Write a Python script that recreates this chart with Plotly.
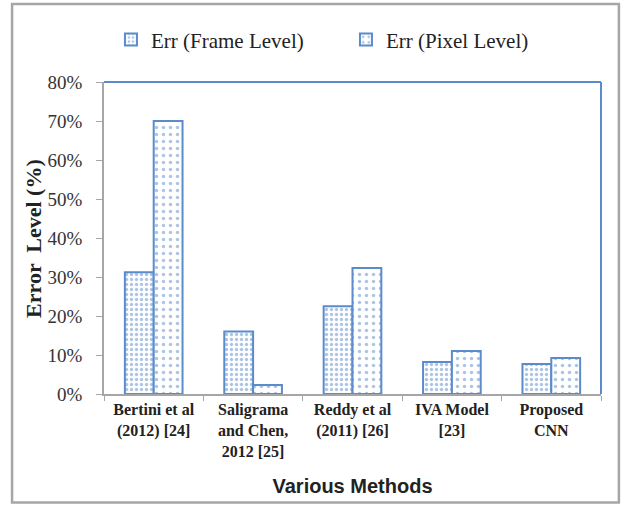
import plotly.graph_objects as go

# Error levels per method (%)
methods = [
    "Bertini et al<br>(2012) [24]",
    "Saligrama<br>and Chen,<br>2012 [25]",
    "Reddy et al<br>(2011) [26]",
    "IVA Model<br>[23]",
    "Proposed<br>CNN",
]
frame_err = [31.2, 16.0, 22.5, 8.2, 7.7]
pixel_err = [70.0, 2.3, 32.3, 11.0, 9.2]
y_ticks = [0, 10, 20, 30, 40, 50, 60, 70, 80]
y_tick_labels = [f"{v}%" for v in y_ticks]

BLUE = "#5B8BCB"
GRAY = "#A6A6A6"
SERIF = "Liberation Serif, Times New Roman, serif"

fig = go.Figure()
fig.add_trace(go.Bar(
    name="Err (Frame Level)", x=methods, y=frame_err,
    marker=dict(color="white", line=dict(color=BLUE, width=2),
                pattern=dict(shape=".", size=5, solidity=0.35,
                             fgcolor=BLUE, bgcolor="white")),
))
fig.add_trace(go.Bar(
    name="Err (Pixel Level)", x=methods, y=pixel_err,
    marker=dict(color="white", line=dict(color=BLUE, width=2),
                pattern=dict(shape=".", size=7, solidity=0.2,
                             fgcolor=BLUE, bgcolor="white")),
))

fig.update_layout(
    width=621, height=505,
    margin=dict(l=104, r=20, t=82, b=111, autoexpand=False),
    paper_bgcolor="white", plot_bgcolor="white",
    barmode="group", bargap=0.42, bargroupgap=0,
    showlegend=True,
    legend=dict(orientation="h", x=0.014, xanchor="left", y=1.135, yanchor="middle",
                bgcolor="rgba(0,0,0,0)",
                font=dict(family=SERIF, size=21, color="#222"),
                entrywidth=190, entrywidthmode="pixels", traceorder="normal"),
    font=dict(family=SERIF, color="#222"),
)
fig.update_xaxes(
    showline=True, linecolor=GRAY, linewidth=1.5,
    ticks="outside", tickson="boundaries", ticklen=5, tickcolor=GRAY,
    tickfont=dict(family=SERIF, size=16, color="#222", weight="bold"),
    title=dict(text="Various Methods", standoff=20,
               font=dict(family="Liberation Sans, Arial, sans-serif", size=20,
                         color="#222", weight="bold")),
)
fig.update_yaxes(
    range=[0, 80], tickvals=y_ticks, ticktext=y_tick_labels,
    showline=True, linecolor=GRAY, linewidth=1.5,
    ticks="outside", ticklen=6, tickcolor=GRAY, ticklabelstandoff=10,
    showgrid=False, zeroline=False,
    tickfont=dict(family=SERIF, size=19, color="#333"),
)

# Y-axis title, placed just left of the tick labels
fig.add_annotation(text="<b>Error  Level (%)</b>", xref="paper", yref="paper",
                   x=-0.143, y=0.5, xanchor="center", yanchor="middle",
                   textangle=-90, showarrow=False,
                   font=dict(family=SERIF, size=22, color="#222"))

# Blue frame on the top and right of the plot area
fig.add_shape(type="line", xref="paper", yref="paper", x0=0, x1=1, y0=1, y1=1,
              line=dict(color=BLUE, width=2))
fig.add_shape(type="line", xref="paper", yref="paper", x0=1, x1=1, y0=0, y1=1,
              line=dict(color=BLUE, width=2))
# Gray outer border of the chart
fig.add_shape(type="rect", xref="paper", yref="paper",
              x0=-0.185, x1=1.036, y0=-0.348, y1=1.25,
              line=dict(color=GRAY, width=2.5), layer="below")

fig.write_html("out.html")
